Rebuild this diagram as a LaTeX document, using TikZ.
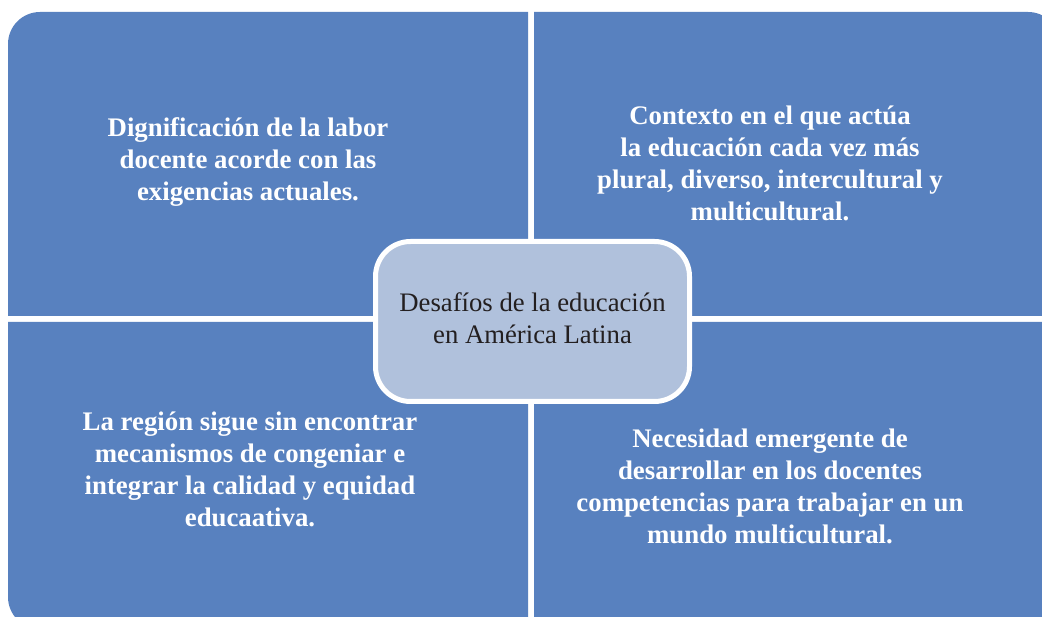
\documentclass[tikz,border=0pt]{standalone}
\usepackage{fontspec}
\setmainfont{Liberation Serif}
\definecolor{panelblue}{RGB}{88,129,191}
\definecolor{centerblue}{RGB}{176,193,220}
\definecolor{darktext}{RGB}{35,31,32}
\begin{document}
\begin{tikzpicture}[x=1pt,y=-1pt,
  panel/.style={fill=panelblue},
  paneltext/.style={text=white, font=\fontsize{26.8}{32}\selectfont\bfseries, align=center, inner sep=0pt},
  hub/.style={draw=white, line width=5pt, fill=centerblue, rounded corners=35pt,
    minimum width=314pt, minimum height=160pt, text=darktext,
    font=\fontsize{26.7}{32}\selectfont}]
\useasboundingbox (0,0) rectangle (1042,617);
\clip (0,0) rectangle (1042,617);
\fill[white] (0,0) rectangle (1042,617);
% panels
\fill[panel] (528,316) -- (8,316) -- (8,44) arc[start angle=180, end angle=270, radius=32] -- (528,12) -- cycle;
\fill[panel] (534,316) -- (534,12) -- (1028,12) arc[start angle=270, end angle=360, radius=32] -- (1060,316) -- cycle;
\fill[panel] (528,322) -- (8,322) -- (8,597) arc[start angle=180, end angle=90, radius=32] -- (528,629) -- cycle;
\fill[panel] (534,322) -- (1060,322) -- (1060,597) arc[start angle=0, end angle=90, radius=32] -- (534,629) -- cycle;
% texts
\node[paneltext] (tl) at (248,162) {Dignificación de la labor\\docente acorde con las\\exigencias actuales.};
\node[paneltext] (tr) at (770,163.5) {Contexto en el que actúa\\la educación cada vez más\\plural, diverso, intercultural y\\multicultural.};
\node[paneltext] (bl) at (250,469.5) {La región sigue sin encontrar\\mecanismos de congeniar e\\integrar la calidad y equidad\\educaativa.};
\node[paneltext] (br) at (770,486.5) {Necesidad emergente de\\desarrollar en los docentes\\competencias para trabajar en un\\mundo multicultural.};
% center
\node[hub] (hub) at (532.5,321.5) {\raisebox{3pt}{\begin{tabular}{@{}c@{}}Desafíos de la educación\\en América Latina\end{tabular}}};
\end{tikzpicture}
\end{document}
